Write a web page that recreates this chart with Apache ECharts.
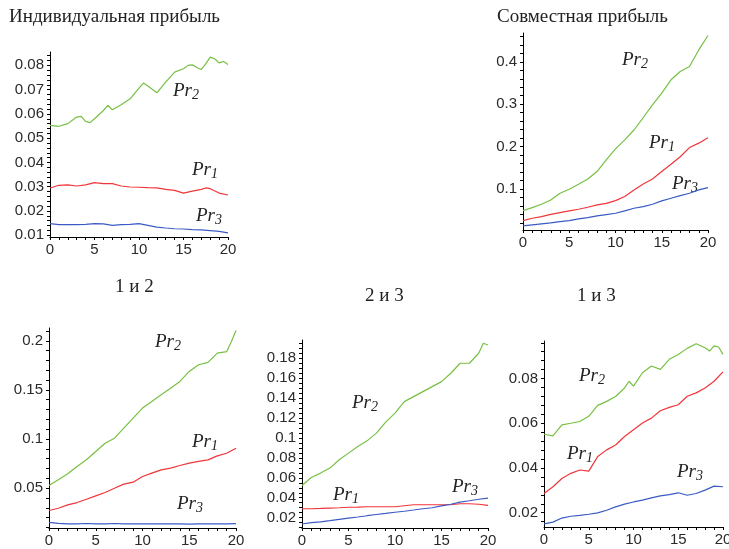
<!DOCTYPE html>
<html>
<head>
<meta charset="utf-8">
<script src="https://cdn.jsdelivr.net/npm/echarts@6/dist/echarts.min.js"></script>
<style>
  html, body { margin: 0; background: #fff; }
  #chart { width: 729px; height: 549px; }
</style>
</head>
<body>
<div id="chart"></div>
<script>
// time steps 0..20
const steps = [0,1,2,3,4,5,6,7,8,9,10,11,12,13,14,15,16,17,18,19,20];
const xLabels = [0, 5, 10, 15, 20];

// Индивидуальная прибыль
const indivPr1 = [[0,0.0295],[1,0.0306],[2,0.0308],[3,0.0303],[4,0.0308],[5,0.0317],[6,0.0313],[7,0.0313],[8,0.0303],[9,0.0299],[10,0.0298],[11,0.0296],[12,0.0295],[13,0.0289],[14,0.0285],[15,0.0274],[16,0.0282],[17,0.0289],[17.5,0.0295],[18,0.0292],[19,0.0274],[20,0.0266]];
const indivPr2 = [[0,0.0553],[1,0.0549],[2,0.056],[3,0.0587],[3.5,0.059],[4,0.0569],[4.5,0.0564],[5,0.058],[6,0.0614],[6.5,0.0635],[7,0.0617],[8,0.0638],[9,0.0662],[10,0.0706],[10.5,0.0727],[11,0.0715],[12,0.0687],[13,0.0731],[14,0.0772],[15,0.0786],[15.5,0.080],[16,0.0802],[16.5,0.0791],[17,0.0783],[17.5,0.0806],[18,0.0834],[18.5,0.0827],[19,0.081],[19.5,0.0816],[20,0.0804]];
const indivPr3 = [[0,0.0148],[1,0.0144],[2,0.0144],[3,0.0144],[4,0.0145],[5,0.0148],[6,0.0147],[7,0.0141],[8,0.0144],[9,0.0145],[10,0.0148],[11,0.0141],[12,0.0134],[13,0.013],[14,0.0127],[15,0.0126],[16,0.0123],[17,0.0122],[18,0.0119],[19,0.0116],[20,0.011]];

// Совместная прибыль
const jointPr1 = [0.0252,0.0307,0.0346,0.04,0.044,0.048,0.052,0.0567,0.0622,0.066,0.0724,0.0819,0.0976,0.1118,0.1236,0.141,0.158,0.176,0.1976,0.208,0.221];
const jointPr2 = [0.0488,0.0559,0.0638,0.074,0.0898,0.0992,0.111,0.1236,0.141,0.1685,0.1945,0.2157,0.239,0.2685,0.2984,0.326,0.3575,0.377,0.389,0.428,0.462];
const jointPr3 = [0.0126,0.015,0.0173,0.0197,0.0228,0.0252,0.0291,0.0323,0.0362,0.0394,0.0425,0.048,0.0543,0.0583,0.0638,0.0717,0.078,0.0843,0.0898,0.0976,0.1031];

// 1 и 2
const p12Pr1 = [0.0273,0.0296,0.033,0.0354,0.0388,0.0422,0.0456,0.05,0.0541,0.0561,0.0619,0.0653,0.0687,0.0704,0.0731,0.0755,0.0772,0.0788,0.0829,0.0856,0.0907];
const p12Pr2 = [[0,0.0527],[1,0.0585],[2,0.0646],[3,0.072],[4,0.0789],[5,0.0873],[6,0.0958],[7,0.1009],[8,0.1111],[9,0.1213],[10,0.1315],[11,0.1382],[12,0.145],[13,0.1518],[14,0.1586],[15,0.1688],[16,0.1756],[17,0.178],[18,0.1875],[19,0.189],[19.5,0.199],[20,0.2105]];
const p12Pr3 = [0.0153,0.0142,0.0137,0.0137,0.0141,0.0137,0.0137,0.0141,0.0137,0.0137,0.0137,0.0137,0.0136,0.0137,0.0137,0.0134,0.0137,0.0137,0.0137,0.0137,0.0139];

// 2 и 3
const p23Pr1 = [0.029,0.029,0.0293,0.0297,0.030,0.0305,0.0307,0.031,0.031,0.031,0.031,0.032,0.033,0.033,0.033,0.033,0.033,0.034,0.034,0.0335,0.0323];
const p23Pr2 = [[0,0.0523],[1,0.0603],[2,0.0647],[3,0.0697],[4,0.078],[5,0.0847],[6,0.0913],[7,0.097],[8,0.1047],[9,0.1157],[10,0.1247],[11,0.1363],[12,0.1413],[13,0.1463],[14,0.1513],[15,0.1563],[16,0.1647],[17,0.1747],[18,0.1747],[19,0.1847],[19.5,0.1947],[20,0.193]];
const p23Pr3 = [0.0137,0.015,0.0158,0.017,0.0183,0.0195,0.0207,0.022,0.0232,0.0243,0.0255,0.0265,0.0277,0.029,0.030,0.0318,0.0335,0.0357,0.037,0.0385,0.0397];

// 1 и 3
const p13Pr1 = [0.0286,0.0316,0.0353,0.0376,0.0391,0.0386,0.0451,0.0481,0.0503,0.0541,0.0571,0.0601,0.0623,0.0656,0.0671,0.0683,0.0721,0.0736,0.0758,0.0788,0.083];
const p13Pr2 = [[0,0.0551],[1,0.0544],[2,0.0593],[3,0.060],[4,0.0608],[5,0.0631],[6,0.068],[7,0.0698],[8,0.072],[9,0.0758],[9.5,0.0788],[10,0.0766],[11,0.0826],[12,0.0856],[13,0.0841],[14,0.0886],[15,0.0908],[16,0.0935],[17,0.0956],[18,0.0938],[18.5,0.0923],[19,0.0946],[19.5,0.0941],[20,0.0908]];
const p13Pr3 = [0.015,0.0158,0.0176,0.0184,0.0188,0.0193,0.0199,0.0211,0.0226,0.0238,0.0248,0.0256,0.0266,0.0275,0.0281,0.0289,0.0278,0.0286,0.0301,0.0319,0.0316];

// y tick labels per panel
const indivTicks = [0.01, 0.02, 0.03, 0.04, 0.05, 0.06, 0.07, 0.08];
const jointTicks = [0.1, 0.2, 0.3, 0.4];
const p12Ticks = [0.05, 0.1, 0.15, 0.2];
const p23Ticks = [0.02, 0.04, 0.06, 0.08, 0.1, 0.12, 0.14, 0.16, 0.18];
const p13Ticks = [0.02, 0.04, 0.06, 0.08];

const GREEN = '#77c043', RED = '#f0363a', BLUE = '#3b5bc4';

const onSteps = (vals) => vals.map((v, i) => [steps[i], v]);
const pairs = (d) => (typeof d[0] === 'number' ? onSteps(d) : d);

function tickRange(min, max, step) {
  const out = [];
  for (let k = Math.ceil(min / step - 1e-9); k * step <= max + 1e-9; k++) {
    out.push(+(k * step).toFixed(6));
  }
  return out;
}

const panels = [
  { grid: { left: 50, top: 52, width: 178, height: 185 }, min: 0.0093, max: 0.0855, labels: indivTicks, minor: 0.002, lines: [indivPr1, indivPr2, indivPr3] },
  { grid: { left: 523, top: 33, width: 185, height: 197 }, min: 0.003, max: 0.468, labels: jointTicks, minor: 0.02, lines: [jointPr1, jointPr2, jointPr3] },
  { grid: { left: 49, top: 328, width: 187, height: 200 }, min: 0.0095, max: 0.213, labels: p12Ticks, minor: 0.01, lines: [p12Pr1, p12Pr2, p12Pr3] },
  { grid: { left: 302, top: 340, width: 186, height: 188 }, min: 0.0097, max: 0.198, labels: p23Ticks, minor: 0.005, lines: [p23Pr1, p23Pr2, p23Pr3] },
  { grid: { left: 544, top: 341, width: 179, height: 186 }, min: 0.0136, max: 0.0968, labels: p13Ticks, minor: 0.004, lines: [p13Pr1, p13Pr2, p13Pr3] }
];

const axisFont = { fontFamily: 'Liberation Sans', fontSize: 15, color: '#2a2a2a' };

const grids = [], xAxes = [], yAxes = [], series = [];
panels.forEach((p, i) => {
  grids.push(Object.assign({ containLabel: false, outerBoundsMode: 'none' }, p.grid));
  xAxes.push({
    type: 'value', gridIndex: i, min: 0, max: 20,
    axisLine: { show: true, onZero: false, lineStyle: { color: '#000', width: 1 } },
    axisTick: { show: true, customValues: steps, length: 3, lineStyle: { color: '#000' } },
    axisLabel: Object.assign({ customValues: xLabels, margin: 5 }, axisFont),
    splitLine: { show: false }
  });
  yAxes.push({
    type: 'value', gridIndex: i, min: p.min, max: p.max,
    axisLine: { show: true, onZero: false, lineStyle: { color: '#000', width: 1 } },
    axisTick: { show: true, customValues: tickRange(p.min, p.max, p.minor), length: 3, lineStyle: { color: '#000' } },
    axisLabel: Object.assign({ customValues: p.labels, margin: 6 }, axisFont),
    splitLine: { show: false }
  });
  [RED, GREEN, BLUE].forEach((c, k) => {
    series.push({
      type: 'line', xAxisIndex: i, yAxisIndex: i,
      data: pairs(p.lines[k]),
      showSymbol: false, symbol: 'none',
      lineStyle: { color: c, width: 1.2 },
      itemStyle: { color: c }
    });
  });
});

const titleFont = { fontFamily: 'Liberation Serif', fontSize: 19, fill: '#222' };
function title(text, x, y) {
  return { type: 'text', left: x, top: y, style: Object.assign({ text }, titleFont) };
}
function prLabel(n, x, y) {
  return {
    type: 'text', left: x, top: y,
    style: {
      text: '{m|Pr}{s|' + n + '}',
      rich: {
        m: { fontFamily: 'Liberation Serif', fontStyle: 'italic', fontSize: 19, fill: '#222' },
        s: { fontFamily: 'Liberation Serif', fontStyle: 'italic', fontSize: 14, fill: '#222', padding: [9, 0, 0, 0] }
      }
    }
  };
}

const graphic = [
  title('Индивидуальная прибыль', 9, 8),
  title('Совместная прибыль', 497, 8),
  title('1 и 2', 115, 278),
  title('2 и 3', 365, 287),
  title('1 и 3', 577, 287),
  prLabel(2, 173, 81), prLabel(1, 192, 160), prLabel(3, 196, 206),
  prLabel(2, 622, 50), prLabel(1, 649, 133), prLabel(3, 672, 174),
  prLabel(2, 155, 332), prLabel(1, 192, 432), prLabel(3, 177, 494),
  prLabel(2, 352, 393), prLabel(1, 333, 485), prLabel(3, 452, 477),
  prLabel(2, 579, 366), prLabel(1, 567, 444), prLabel(3, 677, 462)
];

const chart = echarts.init(document.getElementById('chart'));
chart.setOption({
  animation: false,
  backgroundColor: '#fff',
  grid: grids,
  xAxis: xAxes,
  yAxis: yAxes,
  series,
  graphic
});
</script>
</body>
</html>
